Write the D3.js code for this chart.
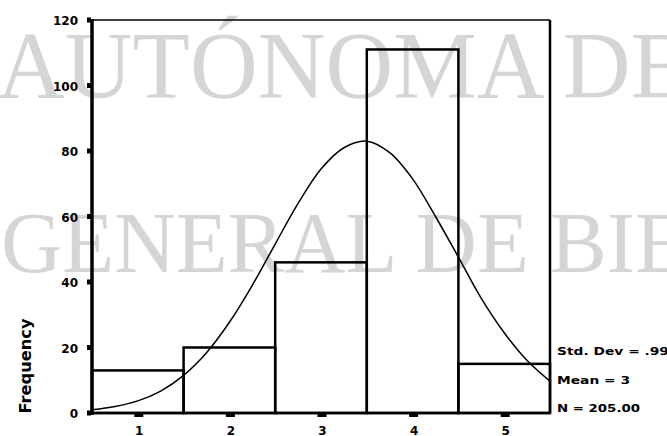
<!DOCTYPE html>
<html>
<head>
<meta charset="utf-8">
<script src="https://cdn.jsdelivr.net/npm/d3@7"></script>
<style>
  html, body { margin: 0; padding: 0; background: #fff; }
  svg { display: block; }
</style>
</head>
<body>
<svg id="chart" width="667" height="436"></svg>
<script>
// ---- data ----
const categories = [1, 2, 3, 4, 5];
const frequencies = [13, 20, 46, 111, 15];
const yTicks = [0, 20, 40, 60, 80, 100, 120];
const xTickLabels = ["1", "2", "3", "4", "5"];
// fitted normal curve
const curveX = [0.5, 0.75, 1, 1.25, 1.5, 1.75, 2, 2.25, 2.5, 2.75, 3, 3.25, 3.5, 3.75, 4, 4.25, 4.5, 4.75, 5, 5.25, 5.5];
const curveY = [1, 2, 3.7, 6.7, 11.5, 18.4, 27.7, 39, 51.6, 64, 74.5, 81, 83, 79.5, 71.5, 60, 47.6, 35, 24.5, 16, 9.7];
const statsLines = ["Std. Dev = .99", "Mean = 3", "N = 205.00"];
const yTitle = "Frequency";
const watermarkLines = ["AUTÓNOMA DE", "GENERAL DE BIE"];

// ---- drawing ----
const svg = d3.select("#chart");
const x = d3.scaleLinear().domain([0.5, 5.5]).range([92, 550]);
const y = d3.scaleLinear().domain([0, 120]).range([413, 20]);

// watermark
const wm = svg.append("g").attr("fill", "#d5d5d5")
  .attr("font-family", "'Liberation Serif', 'DejaVu Serif', serif");
wm.append("text").attr("x", -3).attr("y", 98)
  .attr("font-size", 95)
  .attr("textLength", 691).attr("lengthAdjust", "spacingAndGlyphs")
  .text(watermarkLines[0]);
wm.append("text").attr("x", 1).attr("y", 272)
  .attr("font-size", 86)
  .attr("textLength", 686).attr("lengthAdjust", "spacingAndGlyphs")
  .text(watermarkLines[1]);

// bars
svg.append("g").selectAll("rect")
  .data(categories)
  .join("rect")
  .attr("x", d => x(d - 0.5))
  .attr("width", d => x(d + 0.5) - x(d - 0.5))
  .attr("y", (d, i) => y(frequencies[i]))
  .attr("height", (d, i) => y(0) - y(frequencies[i]))
  .attr("fill", "none")
  .attr("stroke", "#000")
  .attr("stroke-width", 2.5);

// normal curve
const line = d3.line()
  .x(d => x(d[0]))
  .y(d => y(d[1]))
  .curve(d3.curveCatmullRom);
svg.append("path")
  .datum(curveX.map((v, i) => [v, curveY[i]]))
  .attr("d", line)
  .attr("fill", "none")
  .attr("stroke", "#000")
  .attr("stroke-width", 1.5);

// frame
const frame = svg.append("g").attr("stroke", "#000");
frame.append("line").attr("x1", x(0.5)).attr("x2", x(5.5)).attr("y1", y(120)).attr("y2", y(120)).attr("stroke-width", 1.5);
frame.append("line").attr("x1", x(5.5)).attr("x2", x(5.5)).attr("y1", y(120)).attr("y2", y(0)).attr("stroke-width", 2.5);
frame.append("line").attr("x1", x(0.5)).attr("x2", x(5.5)).attr("y1", y(0)).attr("y2", y(0)).attr("stroke-width", 2.5);
frame.append("line").attr("x1", x(0.5)).attr("x2", x(0.5)).attr("y1", y(120) - 1).attr("y2", y(0) + 2).attr("stroke-width", 3.5);

// y ticks
svg.append("g").selectAll("rect")
  .data(yTicks)
  .join("rect")
  .attr("x", x(0.5) - 5)
  .attr("y", d => y(d) - 2.5)
  .attr("width", 4)
  .attr("height", 5)
  .attr("fill", "#000");

svg.append("g")
  .attr("font-family", "'DejaVu Sans', sans-serif")
  .attr("font-weight", "bold")
  .attr("font-size", 12)
  .attr("text-anchor", "end")
  .selectAll("text")
  .data(yTicks)
  .join("text")
  .attr("x", 78)
  .attr("y", d => y(d) + 5)
  .text(d => d);

// x ticks
svg.append("g").selectAll("rect")
  .data(categories)
  .join("rect")
  .attr("x", d => x(d) - 3.5)
  .attr("y", y(0))
  .attr("width", 9)
  .attr("height", 4)
  .attr("fill", "#000");

svg.append("g")
  .attr("font-family", "'DejaVu Sans', sans-serif")
  .attr("font-weight", "bold")
  .attr("font-size", 12)
  .attr("text-anchor", "middle")
  .selectAll("text")
  .data(categories)
  .join("text")
  .attr("x", d => x(d) + 1.5)
  .attr("y", 435)
  .text((d, i) => xTickLabels[i]);

// y title
svg.append("text")
  .attr("transform", "translate(31,366) rotate(-90)")
  .attr("text-anchor", "middle")
  .attr("font-family", "'DejaVu Sans', sans-serif")
  .attr("font-weight", "bold")
  .attr("font-size", 16)
  .attr("textLength", 95)
  .attr("lengthAdjust", "spacingAndGlyphs")
  .text(yTitle);

// stats
const statLen = [112, 73, 83];
const statY = [355, 384, 412];
svg.append("g")
  .attr("font-family", "'DejaVu Sans', sans-serif")
  .attr("font-weight", "bold")
  .attr("font-size", 10)
  .selectAll("text")
  .data(statsLines)
  .join("text")
  .attr("x", 557)
  .attr("y", (d, i) => statY[i])
  .attr("textLength", (d, i) => statLen[i])
  .attr("lengthAdjust", "spacingAndGlyphs")
  .text(d => d);
</script>
</body>
</html>
